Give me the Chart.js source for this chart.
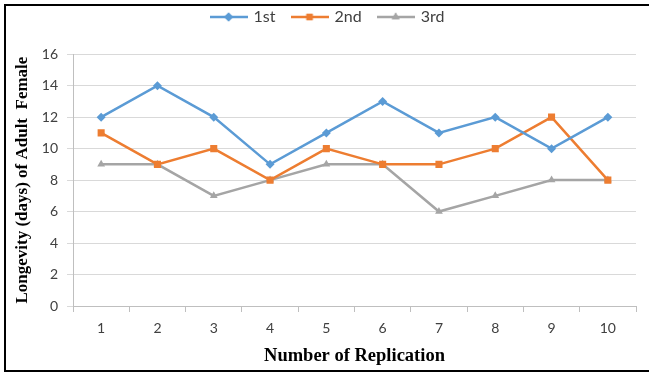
<!DOCTYPE html>
<html>
<head>
<meta charset="utf-8">
<script src="https://cdn.jsdelivr.net/npm/chart.js@4.4.1/dist/chart.umd.min.js"></script>
<style>
  html, body { margin: 0; padding: 0; background: #fff; overflow: hidden; }
  #wrap { position: relative; width: 649px; height: 374px; overflow: hidden; }
  #frame {
    position: absolute; left: 4px; top: 4px; width: 700px; height: 364px;
    border-top: 2px solid #000; border-left: 2px solid #000; border-bottom: 2px solid #000;
    pointer-events: none;
  }
  canvas { position: absolute; left: 0; top: 0; }
</style>
</head>
<body>
<div id="wrap">
  <canvas id="chart" width="649" height="374"></canvas>
  <div id="frame"></div>
</div>
<script>
// Longevity of adult females across ten replications, three generations
const replications = ['1', '2', '3', '4', '5', '6', '7', '8', '9', '10'];
const first  = [12, 14, 12, 9, 11, 13, 11, 12, 10, 12];
const second = [11, 9, 10, 8, 10, 9, 9, 10, 12, 8];
const third  = [9, 9, 7, 8, 9, 9, 6, 7, 8, 8];
const seriesNames = ['1st', '2nd', '3rd'];
const yTicks = [0, 2, 4, 6, 8, 10, 12, 14, 16];

const colors = ['#5B9BD5', '#ED7D31', '#A5A5A5'];
const styles = ['rectRot', 'rect', 'triangle'];

// Legend swatch: a short line with the series marker in the middle
function swatch(color, style) {
  const c = document.createElement('canvas');
  c.width = 38; c.height = 12;
  const g = c.getContext('2d');
  g.strokeStyle = color; g.lineWidth = 2.5;
  g.beginPath(); g.moveTo(0, 6); g.lineTo(38, 6); g.stroke();
  g.fillStyle = color;
  Chart.helpers.drawPoint(g, { pointStyle: style, radius: 4.5, rotation: 0, borderWidth: 0 }, 19, 6);
  g.fill();
  return c;
}

const seriesData = [first, second, third];
const datasets = seriesData.map((d, i) => ({
  label: seriesNames[i],
  data: d,
  borderColor: colors[i],
  backgroundColor: colors[i],
  borderWidth: 2.5,
  pointStyle: styles[i],
  pointRadius: i === 1 ? 5 : 4.5,
  pointBorderWidth: 0,
  tension: 0
}));

const swatches = colors.map((c, i) => swatch(c, styles[i]));

new Chart(document.getElementById('chart'), {
  type: 'line',
  data: { labels: replications, datasets },
  options: {
    responsive: false,
    animation: false,
    devicePixelRatio: 1,
    layout: { padding: { left: 20, right: 13, top: -8, bottom: 6 } },
    plugins: {
      tooltip: { enabled: false },
      // blank spacer between the legend and the plot
      subtitle: {
        display: true,
        text: ' ',
        weight: 500,
        font: { size: 16 },
        padding: { top: 0, bottom: 0 }
      },
      legend: {
        position: 'top',
        labels: {
          usePointStyle: true,
          pointStyleWidth: 34,
          padding: 17,
          color: '#404040',
          font: { family: 'Lato', size: 16 },
          generateLabels(chart) {
            const items = Chart.defaults.plugins.legend.labels.generateLabels(chart);
            items.forEach((it, i) => { it.pointStyle = swatches[i]; });
            return items;
          }
        }
      }
    },
    scales: {
      x: {
        offset: true,
        grid: { offset: true, drawOnChartArea: false, tickLength: 6, color: '#BFBFBF' },
        border: { color: '#BFBFBF' },
        ticks: { color: '#404040', font: { family: 'Lato', size: 14 }, padding: 8 },
        title: {
          display: true,
          text: 'Number of Replication',
          color: '#000',
          font: { family: 'Liberation Serif', size: 18.5, weight: 'bold' },
          padding: { top: 0, bottom: 1 }
        },
        afterFit(scale) { scale.height = 62; }
      },
      y: {
        min: 0, max: 16,
        afterBuildTicks(scale) { scale.ticks = yTicks.map(v => ({ value: v })); },
        grid: { tickLength: 6, color: '#D9D9D9' },
        border: { color: '#BFBFBF' },
        ticks: { color: '#404040', font: { family: 'Lato', size: 14 }, padding: 9 },
        title: {
          display: true,
          text: 'Longevity (days) of Adult  Female',
          color: '#000',
          font: { family: 'Liberation Serif', size: 17, weight: 'bold' },
          padding: { top: -8, bottom: 0 }
        },
        afterFit(scale) { scale.width = 53; }
      }
    }
  }
});
</script>
</body>
</html>
